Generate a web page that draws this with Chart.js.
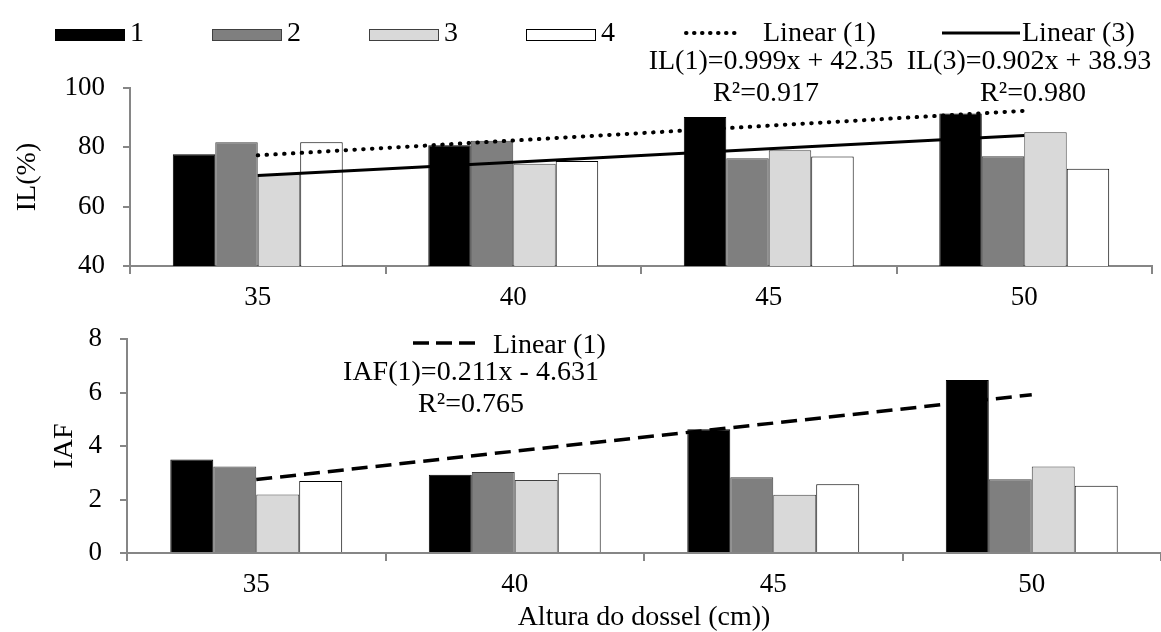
<!DOCTYPE html>
<html>
<head>
<meta charset="utf-8">
<script src="https://cdn.jsdelivr.net/npm/chart.js@4.4.1/dist/chart.umd.min.js"></script>
<style>
  html, body { margin: 0; padding: 0; background: #fff; overflow: hidden; }
  .box { position: absolute; left: 0; width: 1161px; }
</style>
</head>
<body>
<div class="box" style="top:0;height:310px"><canvas id="chartIL"></canvas></div>
<div class="box" style="top:305px;height:327px"><canvas id="chartIAF"></canvas></div>
<script>
// alturas do dossel (cm)
const alturas = ['35', '40', '45', '50'];

// IL (%)
const il1 = [77.7, 80.7, 90.2, 91.4];
const il2 = [81.7, 82.2, 76.3, 77.0];
const il3 = [70.9, 74.5, 79.0, 85.1];
const il4 = [81.7, 75.4, 76.9, 72.8];
const trendIL1 = [77.3, 82.3, 87.3, 92.3];
const trendIL3 = [70.5, 75.0, 79.5, 84.0];

// IAF
const iaf1 = [3.50, 2.93, 4.63, 6.47];
const iaf2 = [3.24, 3.03, 2.83, 2.76];
const iaf3 = [2.19, 2.73, 2.18, 3.24];
const iaf4 = [2.69, 2.98, 2.57, 2.52];
const trendIAF1 = [2.75, 3.81, 4.86, 5.92];

const serie = ['1', '2', '3', '4'];
const cores = ['#000000', '#7f7f7f', '#d9d9d9', '#ffffff'];
const bordas = ['#000000', '#404040', '#404040', '#000000'];

const FONT = 'Liberation Serif';
const AXIS = '#868686';

function barras(valores) {
  return valores.map((v, i) => ({
    type: 'bar',
    label: serie[i],
    data: v,
    backgroundColor: cores[i],
    borderColor: bordas[i],
    borderWidth: 1,
    barPercentage: 1,
    categoryPercentage: 0.665,
    order: 1
  }));
}

function linha(label, data, dash, cap, width) {
  return {
    type: 'line',
    label: label,
    data: data,
    borderColor: '#000',
    borderWidth: width,
    borderDash: dash,
    borderCapStyle: cap,
    pointRadius: 0,
    fill: false,
    tension: 0,
    order: 0
  };
}

// textos e legenda desenhados no canvas
function notas(itens) {
  return {
    id: 'notas',
    afterDraw(chart) {
      const ctx = chart.ctx;
      ctx.save();
      ctx.fillStyle = '#000';
      ctx.textBaseline = 'alphabetic';
      ctx.font = '28px "' + FONT + '"';
      itens.forEach(n => {
        if (n.box) {
          ctx.fillStyle = n.box;
          ctx.fillRect(n.x, n.y, 70, 12);
          ctx.strokeStyle = n.edge;
          ctx.lineWidth = 1;
          ctx.strokeRect(n.x + 0.5, n.y + 0.5, 69, 11);
          ctx.fillStyle = '#000';
        } else if (n.line) {
          ctx.beginPath();
          ctx.strokeStyle = '#000';
          ctx.lineWidth = n.w;
          ctx.lineCap = n.cap;
          ctx.setLineDash(n.dash);
          ctx.moveTo(n.x, n.y);
          ctx.lineTo(n.x2, n.y);
          ctx.stroke();
          ctx.setLineDash([]);
        } else {
          ctx.textAlign = n.align || 'center';
          ctx.fillText(n.text, n.x, n.y);
        }
      });
      ctx.restore();
    }
  };
}

function escalas(min, max, step, titulo, tpad, ylw, xh, xtitle) {
  return {
    x: {
      grid: { offset: true, drawOnChartArea: false, tickLength: 8, color: AXIS, lineWidth: 2 },
      border: { color: AXIS, width: 2 },
      ticks: { color: '#000', font: { family: FONT, size: 27 }, padding: 8 },
      title: xtitle ? { display: true, text: xtitle, color: '#000', font: { family: FONT, size: 28, lineHeight: 1 }, padding: { top: 0, bottom: 0 } } : { display: false },
      afterFit: s => { s.height = xh; }
    },
    y: {
      min: min, max: max,
      ticks: { stepSize: step, color: '#000', font: { family: FONT, size: 27 }, padding: 18 },
      grid: { drawOnChartArea: false, tickLength: 7, color: AXIS, lineWidth: 2 },
      border: { color: AXIS, width: 2 },
      title: { display: true, text: titulo, color: '#000', font: { family: FONT, size: 28, lineHeight: 1 }, padding: { top: tpad, bottom: 0 } },
      afterFit: s => { s.width = ylw; }
    }
  };
}

new Chart('chartIL', {
  data: {
    labels: alturas,
    datasets: barras([il1, il2, il3, il4]).concat([
      linha('Linear (1)', trendIL1, [0.5, 8.3], 'round', 4),
      linha('Linear (3)', trendIL3, [], 'butt', 3)
    ])
  },
  options: {
    responsive: true,
    maintainAspectRatio: false,
    animation: false,
    layout: { padding: { top: 88, right: 9, left: 0, bottom: 0 } },
    plugins: { legend: { display: false }, tooltip: { enabled: false } },
    scales: escalas(40, 100, 20, 'IL(%)', 14, 130, 44, null)
  },
  plugins: [notas([
    { box: cores[0], edge: bordas[0], x: 55, y: 29 },
    { text: serie[0], x: 130, y: 41, align: 'left' },
    { box: cores[1], edge: bordas[1], x: 212, y: 29 },
    { text: serie[1], x: 287, y: 41, align: 'left' },
    { box: cores[2], edge: bordas[2], x: 369, y: 29 },
    { text: serie[2], x: 444, y: 41, align: 'left' },
    { box: cores[3], edge: bordas[3], x: 526, y: 29 },
    { text: serie[3], x: 601, y: 41, align: 'left' },
    { line: true, x: 686, x2: 735, y: 33, w: 4, cap: 'round', dash: [0.5, 7.5] },
    { text: 'Linear (1)', x: 763, y: 41, align: 'left' },
    { line: true, x: 942, x2: 1020, y: 33, w: 3, cap: 'butt', dash: [] },
    { text: 'Linear (3)', x: 1022, y: 41, align: 'left' },
    { text: 'IL(1)=0.999x + 42.35', x: 771, y: 69 },
    { text: 'R²=0.917', x: 766, y: 101 },
    { text: 'IL(3)=0.902x + 38.93', x: 1029, y: 69 },
    { text: 'R²=0.980', x: 1033, y: 101 }
  ])]
});

new Chart('chartIAF', {
  data: {
    labels: alturas,
    datasets: barras([iaf1, iaf2, iaf3, iaf4]).concat([
      linha('Linear (1)', trendIAF1, [16, 8], 'butt', 3.5)
    ])
  },
  options: {
    responsive: true,
    maintainAspectRatio: false,
    animation: false,
    layout: { padding: { top: 32, right: 0, left: 0, bottom: 0 } },
    plugins: { legend: { display: false }, tooltip: { enabled: false } },
    scales: escalas(0, 8, 2, 'IAF', 51, 127, 79, 'Altura do dossel (cm))')
  },
  plugins: [notas([
    { line: true, x: 413, x2: 475, y: 38, w: 3.5, cap: 'butt', dash: [16, 7] },
    { text: 'Linear (1)', x: 493, y: 48, align: 'left' },
    { text: 'IAF(1)=0.211x - 4.631', x: 471, y: 75 },
    { text: 'R²=0.765', x: 471, y: 107 }
  ])]
});
</script>
</body>
</html>
